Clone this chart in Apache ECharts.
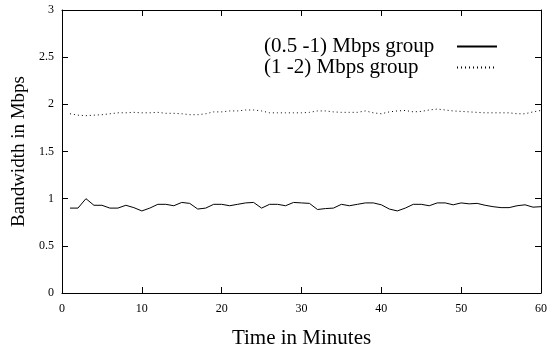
<!DOCTYPE html>
<html>
<head>
<meta charset="utf-8">
<script src="https://cdn.jsdelivr.net/npm/echarts@6/dist/echarts.min.js"></script>
<style>
    html, body {margin: 0; padding: 0; background: #fff;}
    #chart {width: 558px; height: 354px;}
</style>
</head>
<body>
<div id="chart"></div>
<script>
// minutes 1..60
const minutes = Array.from({length: 60}, (_, i) => i + 1);

// (0.5 -1) Mbps group
const lowGroup = [
    0.90, 0.90, 1.00, 0.93, 0.93, 0.90, 0.90, 0.93, 0.905, 0.87,
    0.90, 0.94, 0.94, 0.925, 0.96, 0.95, 0.89, 0.90, 0.94, 0.94,
    0.925, 0.94, 0.955, 0.96, 0.90, 0.94, 0.94, 0.925, 0.96, 0.955,
    0.95, 0.885, 0.895, 0.90, 0.94, 0.925, 0.94, 0.955, 0.955, 0.935,
    0.89, 0.87, 0.90, 0.94, 0.94, 0.925, 0.955, 0.955, 0.935, 0.955,
    0.945, 0.95, 0.93, 0.915, 0.905, 0.905, 0.925, 0.935, 0.91, 0.915
];

// (1 -2) Mbps group
const highGroup = [
    1.90, 1.885, 1.88, 1.885, 1.89, 1.90, 1.91, 1.91, 1.915, 1.91,
    1.91, 1.915, 1.905, 1.905, 1.90, 1.89, 1.89, 1.90, 1.92, 1.92,
    1.93, 1.93, 1.94, 1.94, 1.93, 1.91, 1.91, 1.91, 1.91, 1.91,
    1.915, 1.93, 1.93, 1.92, 1.915, 1.915, 1.915, 1.93, 1.91, 1.90,
    1.92, 1.93, 1.935, 1.92, 1.925, 1.94, 1.95, 1.94, 1.93, 1.925,
    1.92, 1.915, 1.91, 1.91, 1.91, 1.91, 1.90, 1.90, 1.92, 1.935
];

const seriesNames = ['(0.5 -1) Mbps group', '(1 -2) Mbps group'];

const font = 'Liberation Serif';
const black = '#000';

const chart = echarts.init(document.getElementById('chart'), null, {renderer: 'canvas'});

const tick = {show: true, inside: true, length: 6, lineStyle: {color: black, width: 1}};
const axisLine = {show: true, onZero: false, lineStyle: {color: black, width: 1}};

const option = {
    animation: false,
    backgroundColor: '#fff',
    grid: {left: 62, right: 17, top: 10, bottom: 57, containLabel: false},
    legend: {
        right: 55,
        top: 31,
        orient: 'vertical',
        align: 'right',
        itemWidth: 40,
        itemHeight: 10,
        itemGap: 0,
        // hide the symbol dot, keep the line
        itemStyle: {color: 'rgba(0,0,0,0)', borderWidth: 0},
        // key texts start at the same x, like gnuplot's key
        formatter: name => `{t|${name}}`,
        textStyle: {
            fontFamily: font,
            fontSize: 21,
            lineHeight: 17,
            color: black,
            rich: {
                t: {fontFamily: font, fontSize: 21, lineHeight: 17, color: black, width: 188, align: 'left'}
            }
        },
        data: seriesNames
    },
    xAxis: [{
        type: 'value',
        position: 'bottom',
        min: 0,
        max: 60,
        interval: 10,
        name: 'Time in Minutes',
        nameLocation: 'middle',
        nameGap: 35,
        nameTextStyle: {fontFamily: font, fontSize: 21, color: black},
        axisLine: axisLine,
        axisTick: tick,
        axisLabel: {fontFamily: font, fontSize: 12, color: black, margin: 10},
        splitLine: {show: false}
    }, {
        type: 'value',
        position: 'top',
        min: 0,
        max: 60,
        interval: 10,
        axisLine: axisLine,
        axisTick: tick,
        axisLabel: {show: false},
        splitLine: {show: false}
    }],
    yAxis: [{
        type: 'value',
        position: 'left',
        min: 0,
        max: 3,
        interval: 0.5,
        name: 'Bandwidth in Mbps',
        nameLocation: 'middle',
        nameGap: 28,
        nameTextStyle: {fontFamily: font, fontSize: 19, color: black},
        axisLine: axisLine,
        axisTick: tick,
        axisLabel: {fontFamily: font, fontSize: 12, color: black, margin: 8},
        splitLine: {show: false}
    }, {
        type: 'value',
        position: 'right',
        min: 0,
        max: 3,
        interval: 0.5,
        axisLine: axisLine,
        axisTick: tick,
        axisLabel: {show: false},
        splitLine: {show: false}
    }],
    series: [{
        name: seriesNames[0],
        type: 'line',
        showSymbol: false,
        symbol: 'none',
        itemStyle: {color: black},
        lineStyle: {color: black, width: 1},
        data: minutes.map((m, i) => [m, lowGroup[i]])
    }, {
        name: seriesNames[1],
        type: 'line',
        showSymbol: false,
        symbol: 'none',
        itemStyle: {color: black},
        lineStyle: {color: black, width: 1, type: [1, 3]},
        data: minutes.map((m, i) => [m, highGroup[i]])
    }]
};

chart.setOption(option);
</script>
</body>
</html>
